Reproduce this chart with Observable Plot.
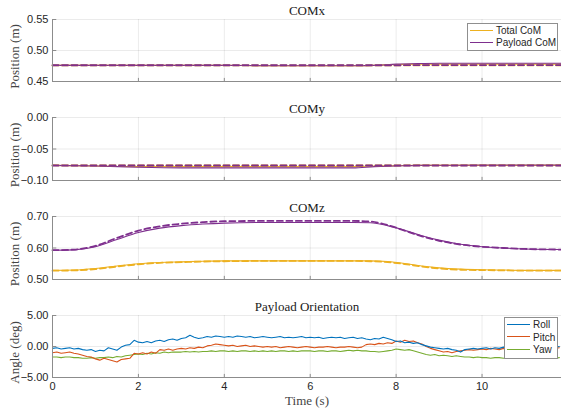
<!DOCTYPE html>
<html><head><meta charset="utf-8">
<script src="https://cdn.jsdelivr.net/npm/d3@7"></script>
<script src="https://cdn.jsdelivr.net/npm/@observablehq/plot@0.6"></script>
<style>
body{margin:0;background:#fff;}
#chart{position:relative;width:561px;height:416px;overflow:hidden;font-family:"Liberation Sans",Arial,sans-serif;background:#fff;}
#chart svg{display:block;}
.legend{position:absolute;background:#fff;border:1px solid #8f8f8f;box-sizing:border-box;font-size:10px;color:#262626;padding-top:1px;}
.item{height:12px;line-height:12px;white-space:nowrap;padding-left:2px;}
.sw{display:inline-block;width:23px;height:0;border-top:1.3px solid;vertical-align:middle;margin-right:3px;position:relative;top:-1px;}
</style></head><body><div id="chart"></div>
<script>
// ---------- data ----------
const xDomain = [0, 11.85];
const xTicks = [0, 2, 4, 6, 8, 10];

const comColors = {total: "#EDB120", payload: "#7E2F8E"};
const oriColors = {roll: "#0072BD", pitch: "#D95319", yaw: "#77AC30"};

// COMx / COMy sampling times
const tXY = [0, 1, 2, 3, 4, 5, 6, 7, 7.5, 8, 8.5, 9, 10, 11, 11.85];
const totalX      = [0.476,0.476,0.476,0.476,0.476,0.4755,0.4755,0.4755,0.476,0.4775,0.478,0.478,0.478,0.478,0.478];
const totalXRef   = [0.476,0.476,0.476,0.476,0.476,0.476,0.476,0.476,0.476,0.476,0.4762,0.4762,0.4762,0.4762,0.4762];
const payloadX    = [0.476,0.476,0.476,0.476,0.476,0.4755,0.4755,0.4755,0.476,0.478,0.479,0.4795,0.4795,0.4795,0.4795];
const payloadXRef = [0.4762,0.4762,0.4762,0.4762,0.4762,0.4762,0.4762,0.4762,0.4762,0.4762,0.4765,0.4765,0.4765,0.4765,0.4765];

const totalY      = [-0.076,-0.077,-0.078,-0.078,-0.078,-0.078,-0.078,-0.078,-0.077,-0.0765,-0.076,-0.076,-0.076,-0.076,-0.076];
const totalYRef   = [-0.076,-0.076,-0.076,-0.076,-0.076,-0.076,-0.076,-0.076,-0.076,-0.076,-0.076,-0.076,-0.076,-0.076,-0.076];
const payloadY    = [-0.076,-0.077,-0.079,-0.080,-0.080,-0.080,-0.080,-0.080,-0.078,-0.077,-0.076,-0.0758,-0.0755,-0.0755,-0.0755];
const payloadYRef = [-0.0762,-0.0762,-0.0762,-0.0762,-0.0762,-0.0762,-0.0762,-0.0762,-0.0762,-0.0762,-0.0762,-0.0762,-0.0762,-0.0762,-0.0762];

// COMz sampling times
const tZ = [0,0.5,1,1.5,2,2.5,3,3.5,4,5,6,7,7.4,7.8,8.2,8.6,9,9.5,10,10.5,11,11.85];
const payloadZ    = [0.593,0.594,0.604,0.627,0.649,0.663,0.671,0.676,0.679,0.681,0.681,0.681,0.680,0.671,0.656,0.639,0.625,0.612,0.604,0.600,0.597,0.595];
const payloadZRef = [0.593,0.595,0.607,0.632,0.655,0.669,0.677,0.682,0.685,0.686,0.686,0.686,0.684,0.673,0.655,0.637,0.623,0.611,0.604,0.600,0.597,0.595];
const totalZ      = [0.529,0.530,0.535,0.543,0.550,0.554,0.556,0.558,0.559,0.559,0.559,0.559,0.559,0.557,0.551,0.543,0.537,0.533,0.531,0.530,0.529,0.529];
const totalZRef   = [0.528,0.529,0.533,0.541,0.548,0.553,0.555,0.557,0.558,0.559,0.559,0.559,0.558,0.555,0.549,0.541,0.535,0.531,0.530,0.529,0.528,0.528];

// Payload orientation, sampled every 0.1 s from 0 to 11.8 s
const tOri = d3.range(119).map(i => i / 10);
const roll = [
 -0.3,-0.2,-0.4,-0.3,-0.2,-0.4,-0.3,-0.5,-0.6,-0.5,
 -0.8,-0.6,-0.7,-0.2,-0.4,-0.6,-0.1,0.2,0.3,1.0,
 0.7,0.6,0.8,0.6,0.9,1.0,0.8,1.1,1.2,1.0,
 1.3,1.4,1.8,1.5,1.3,1.4,1.6,1.5,1.7,1.6,
 1.5,1.6,1.5,1.7,1.6,1.5,1.6,1.4,1.5,1.6,
 1.5,1.4,1.5,1.6,1.4,1.5,1.4,1.5,1.6,1.4,
 1.5,1.4,1.5,1.3,1.4,1.5,1.4,1.5,1.3,1.4,
 1.5,1.3,1.4,1.2,1.1,1.3,1.2,1.5,1.3,1.1,
 0.8,0.9,0.6,0.7,0.5,0.6,0.3,0.1,-0.1,-0.2,
 -0.3,-0.4,-0.3,-0.5,-0.6,-0.9,-0.5,-0.4,-0.3,-0.4,
 -0.3,-0.2,-0.4,-0.2,-0.3,-0.1,-0.2,0.0,-0.1,0.1,
 0.0,-0.1,0.1,0.0,-0.1,0.1,0.0,-0.1,0.0];
const pitch = [
 -1.0,-0.9,-1.1,-1.0,-0.9,-1.1,-1.2,-1.4,-1.6,-1.7,
 -2.0,-2.2,-1.9,-2.1,-2.3,-2.5,-2.1,-2.0,-1.9,-1.1,
 -1.2,-1.0,-1.2,-0.9,-1.1,-0.5,-0.6,-0.4,-0.6,-0.4,
 -0.3,-0.4,-0.2,-0.3,-0.1,-0.2,0.1,0.2,0.4,0.3,
 0.2,0.1,0.2,0.0,0.1,0.2,0.0,0.1,0.0,-0.1,
 0.0,-0.1,0.0,-0.2,-0.1,0.0,-0.1,-0.2,-0.1,0.0,
 -0.1,-0.2,-0.1,-0.1,0.0,-0.1,-0.2,-0.1,-0.1,0.0,
 -0.1,-0.2,-0.1,0.3,0.4,0.3,0.5,0.4,0.6,0.5,
 0.9,0.7,1.0,0.8,0.9,0.6,0.4,0.0,-0.3,-0.5,
 -0.7,-0.9,-0.8,-1.0,-0.8,-0.7,-0.6,-0.5,-0.6,-0.5,
 -0.4,-0.5,-0.3,-0.4,-0.5,-0.3,-0.4,-0.2,-0.3,-0.4,
 -0.3,-0.2,-0.4,-0.3,-0.2,-0.3,-0.4,-0.3,-0.2];
const yaw = [
 -1.7,-1.7,-1.8,-1.7,-1.7,-1.8,-1.8,-1.9,-1.9,-1.8,
 -1.9,-1.8,-1.8,-1.7,-1.8,-1.6,-1.7,-1.5,-1.4,-1.3,
 -1.2,-1.3,-1.1,-1.2,-1.0,-1.1,-0.9,-1.0,-0.9,-0.9,
 -0.9,-0.8,-0.9,-0.8,-0.9,-0.8,-0.8,-0.7,-0.8,-0.7,
 -0.7,-0.8,-0.7,-0.8,-0.7,-0.7,-0.8,-0.7,-0.8,-0.7,
 -0.8,-0.7,-0.8,-0.7,-0.7,-0.8,-0.7,-0.8,-0.7,-0.7,
 -0.7,-0.8,-0.7,-0.7,-0.8,-0.7,-0.7,-0.8,-0.7,-0.6,
 -0.7,-0.6,-0.7,-0.7,-0.8,-0.8,-0.9,-0.8,-0.7,-0.6,
 -0.4,-0.5,-0.6,-0.5,-0.7,-0.9,-1.1,-1.3,-1.4,-1.3,
 -1.5,-1.4,-1.5,-1.6,-1.5,-1.6,-1.7,-1.7,-1.8,-1.7,
 -1.8,-1.8,-1.9,-1.8,-1.8,-1.9,-1.8,-1.9,-1.8,-1.8,
 -1.8,-1.9,-1.8,-1.8,-1.9,-1.8,-1.8,-1.9,-1.8];

// ---------- drawing ----------
const serif = "Liberation Serif, Times New Roman, serif";
const axisColor = "#8c8c8c";
const fmt2 = d3.format(".2f");

function solid(t, v, color) {
  return Plot.line(v, {x: t, y: v, stroke: color, strokeWidth: 1.1, curve: "monotone-x"});
}
function dashed(t, v, color) {
  return Plot.line(v, {x: t, y: v, stroke: color, strokeWidth: 1.8, strokeDasharray: "6,3.5", curve: "monotone-x"});
}
function raw(t, v, color) {
  return Plot.line(v, {x: t, y: v, stroke: color, strokeWidth: 1.1});
}

function panel({height, mt, mb, yDomain, yTicks, title, ylabel, lines, showX}) {
  const [y0, y1] = yDomain;
  const marks = [
    Plot.gridX(xTicks, {stroke: "#000", strokeOpacity: 0.08}),
    Plot.gridY(yTicks, {stroke: "#000", strokeOpacity: 0.08}),
    ...lines,
    Plot.ruleX(xTicks, {y1: y0, y2: y0 + (y1 - y0) * 0.05, stroke: axisColor}),
    Plot.ruleY(yTicks, {x1: xDomain[0], x2: xDomain[0] + 0.1, stroke: axisColor}),
    Plot.ruleX([xDomain[0]], {stroke: axisColor}),
    Plot.ruleY([y0], {stroke: axisColor}),
    Plot.axisY({ticks: yTicks, tickFormat: fmt2, tickSize: 0, tickPadding: 4, label: null}),
    Plot.text([title], {frameAnchor: "top", lineAnchor: "middle", textAnchor: "middle", dy: -9, fontFamily: serif, fontSize: 13, fill: "#1a1a1a"}),
    Plot.text([ylabel], {frameAnchor: "left", lineAnchor: "middle", textAnchor: "middle", rotate: -90, dx: -38, dy: 6, fontFamily: serif, fontSize: 13, fill: "#444"})
  ];
  if (showX) {
    marks.push(Plot.axisX({ticks: xTicks, tickSize: 0, tickPadding: 5, label: null}));
    marks.push(Plot.text(["Time (s)"], {frameAnchor: "bottom", lineAnchor: "middle", textAnchor: "middle", dy: 23, fontFamily: serif, fontSize: 13, fill: "#444"}));
  }
  return Plot.plot({
    width: 561, height, marginLeft: 52, marginRight: 0, marginTop: mt, marginBottom: mb,
    style: {fontFamily: "Liberation Sans, Arial, sans-serif", fontSize: "11px", color: "#262626", background: "transparent", overflow: "visible"},
    x: showX ? {domain: xDomain} : {domain: xDomain, axis: null},
    y: {domain: yDomain},
    marks
  });
}

const chart = document.getElementById("chart");
chart.appendChild(panel({height: 98, mt: 19, mb: 17, yDomain: [0.45, 0.55], yTicks: [0.45, 0.50, 0.55],
  title: "COMx", ylabel: "Position (m)", showX: false,
  lines: [solid(tXY, totalX, comColors.total), solid(tXY, payloadX, comColors.payload),
          dashed(tXY, totalXRef, comColors.total), dashed(tXY, payloadXRef, comColors.payload)]}));
chart.appendChild(panel({height: 99, mt: 19, mb: 17, yDomain: [-0.10, 0.00], yTicks: [-0.10, -0.05, 0.00],
  title: "COMy", ylabel: "Position (m)", showX: false,
  lines: [solid(tXY, totalY, comColors.total), solid(tXY, payloadY, comColors.payload),
          dashed(tXY, totalYRef, comColors.total), dashed(tXY, payloadYRef, comColors.payload)]}));
chart.appendChild(panel({height: 99, mt: 19, mb: 17, yDomain: [0.50, 0.70], yTicks: [0.50, 0.60, 0.70],
  title: "COMz", ylabel: "Position (m)", showX: false,
  lines: [solid(tZ, totalZ, comColors.total), solid(tZ, payloadZ, comColors.payload),
          dashed(tZ, totalZRef, comColors.total), dashed(tZ, payloadZRef, comColors.payload)]}));
chart.appendChild(panel({height: 120, mt: 19, mb: 39, yDomain: [-5, 5], yTicks: [-5, 0, 5],
  title: "Payload Orientation", ylabel: "Angle (deg)", showX: true,
  lines: [raw(tOri, yaw, oriColors.yaw), raw(tOri, pitch, oriColors.pitch), raw(tOri, roll, oriColors.roll)]}));

function legend(items, left, top, w, h, lh) {
  const box = document.createElement("div");
  box.className = "legend";
  Object.assign(box.style, {left: left + "px", top: top + "px", width: w + "px", height: h + "px"});
  for (const [label, color] of items) {
    const it = document.createElement("div");
    it.className = "item";
    it.style.height = it.style.lineHeight = lh + "px";
    const sw = document.createElement("span");
    sw.className = "sw";
    sw.style.borderTopColor = color;
    it.appendChild(sw);
    it.appendChild(document.createTextNode(label));
    box.appendChild(it);
  }
  chart.appendChild(box);
}
legend([["Total CoM", comColors.total], ["Payload CoM", comColors.payload]], 467, 23, 91, 28, 12);
legend([["Roll", oriColors.roll], ["Pitch", oriColors.pitch], ["Yaw", oriColors.yaw]], 504, 317, 54, 42, 12.5);
</script></body></html>
